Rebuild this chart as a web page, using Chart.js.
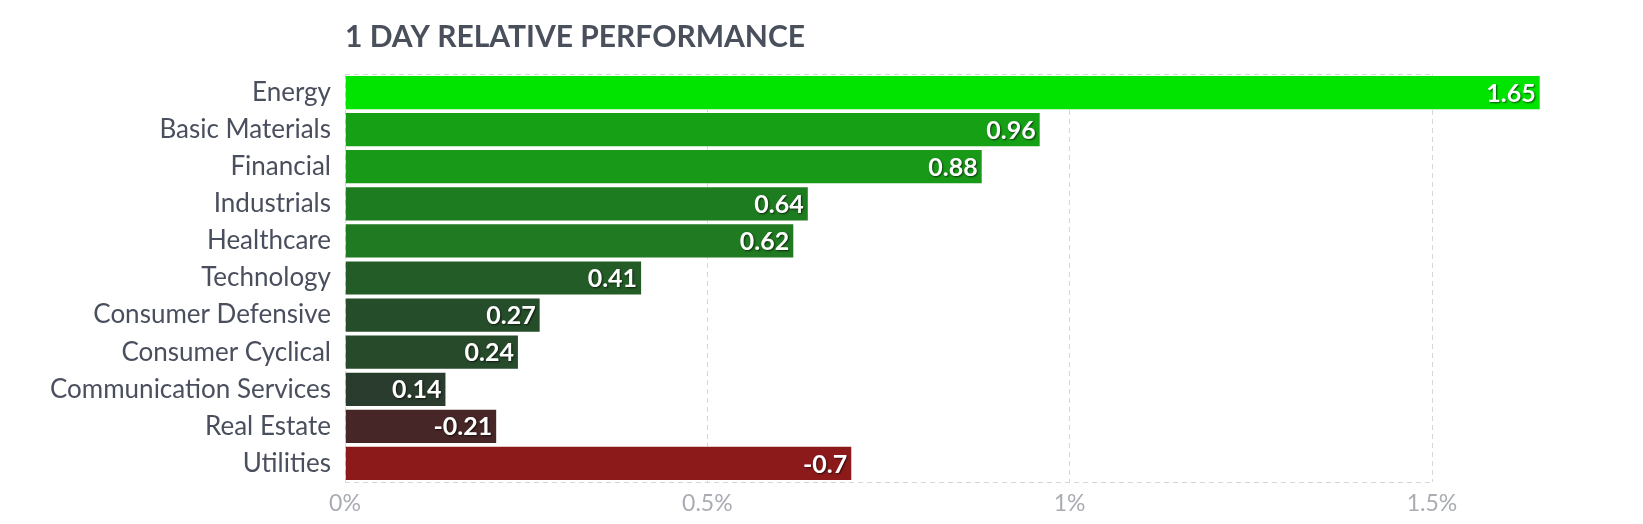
<!DOCTYPE html>
<html lang="en">
<head>
  <meta charset="UTF-8" />
  <title>1 Day Relative Performance</title>
  <script src="https://cdn.jsdelivr.net/npm/chart.js"></script>
  <style>
    body { margin: 0; background: #fff; }
    .wrap { position: relative; width: 1643px; height: 524px; }
  </style>
</head>
<body>
  <div class="wrap"><canvas id="perfChart"></canvas></div>

  <script>
    // data
    const sectors = ['Energy', 'Basic Materials', 'Financial', 'Industrials', 'Healthcare', 'Technology',
      'Consumer Defensive', 'Consumer Cyclical', 'Communication Services', 'Real Estate', 'Utilities'];
    const changes = [1.65, 0.96, 0.88, 0.64, 0.62, 0.41, 0.27, 0.24, 0.14, -0.21, -0.7];
    const xTicks = [0, 0.5, 1, 1.5];

    // bar colours, strong green down to red
    const barColors = ['#00e400', '#16a016', '#189a18', '#1e7c20', '#1f7a21', '#245c27',
      '#264d2a', '#274a2b', '#2a3c2d', '#472627', '#8c1a1b'];

    const titleText = '1 DAY RELATIVE PERFORMANCE';

    const titlePlugin = {
      id: 'sideTitle',
      afterDraw(chart) {
        const ctx = chart.ctx;
        ctx.save();
        ctx.font = 'bold 30px Lato';
        ctx.fillStyle = '#4a4f5c';
        ctx.textAlign = 'left';
        ctx.textBaseline = 'middle';
        ctx.fillText(titleText, chart.chartArea.left, 37);
        ctx.restore();
      }
    };

    const valueLabels = {
      id: 'valueLabels',
      afterDatasetsDraw(chart) {
        const ctx = chart.ctx;
        const meta = chart.getDatasetMeta(0);
        ctx.save();
        ctx.font = 'bold 25px Lato';
        ctx.textAlign = 'right';
        ctx.textBaseline = 'middle';
        ctx.fillStyle = '#fff';
        ctx.shadowColor = 'rgba(0,0,0,0.65)';
        ctx.shadowOffsetX = 1;
        ctx.shadowOffsetY = 1;
        ctx.shadowBlur = 2;
        meta.data.forEach((bar, i) => {
          ctx.fillText(String(changes[i]), bar.x - 5, bar.y + 1);
        });
        ctx.restore();
      }
    };

    new Chart(document.getElementById('perfChart'), {
      type: 'bar',
      data: {
        labels: sectors,
        datasets: [{
          data: changes.map(Math.abs),
          backgroundColor: barColors,
          borderColor: 'rgba(255,255,255,0.55)',
          borderWidth: 1,
          categoryPercentage: 1,
          barPercentage: 0.95,
          clip: false
        }]
      },
      options: {
        indexAxis: 'y',
        responsive: true,
        maintainAspectRatio: false,
        animation: false,
        layout: { padding: { top: 74, right: 211, bottom: 0, left: 0 } },
        plugins: {
          legend: { display: false },
          tooltip: { enabled: false }
        },
        scales: {
          x: {
            min: 0,
            max: 1.5,
            afterBuildTicks: scale => { scale.ticks = xTicks.map(v => ({ value: v })); },
            afterFit: scale => { scale.height = 42; },
            grid: { color: '#d6d6d6', drawTicks: false },
            border: { display: false, dash: [5, 4] },
            ticks: {
              padding: 8,
              color: '#aaacb3',
              font: { family: 'Lato', size: 23 },
              callback: v => v + '%'
            }
          },
          y: {
            afterFit: scale => { scale.width = 345; },
            grid: {
              drawTicks: false,
              color: c => (c.type === 'scale' || c.index === 0) ? '#d6d6d6' : 'rgba(0,0,0,0)'
            },
            border: { display: false, dash: [5, 4] },
            ticks: {
              padding: 14,
              color: '#4a4f5e',
              font: { family: 'Lato', size: 26 }
            }
          }
        }
      },
      plugins: [titlePlugin, valueLabels]
    });
  </script>
</body>
</html>
